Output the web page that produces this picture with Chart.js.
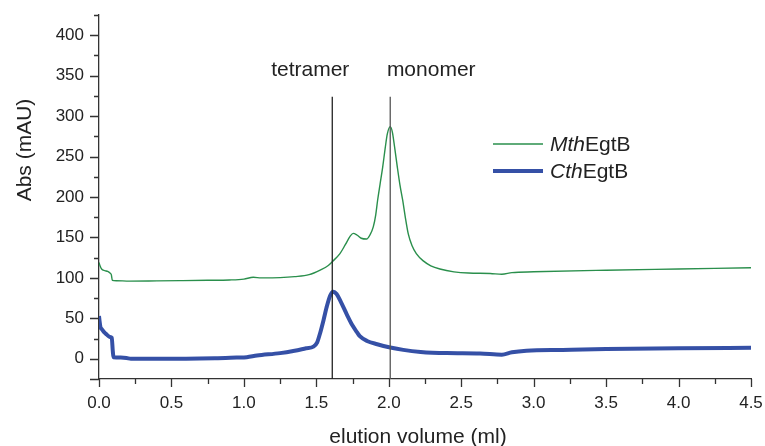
<!DOCTYPE html>
<html>
<head>
<meta charset="utf-8">
<script src="https://cdn.jsdelivr.net/npm/chart.js@4.4.1/dist/chart.umd.min.js"></script>
<style>
  html, body { margin: 0; padding: 0; background: #fff; }
  #wrap { width: 765px; height: 446px; }
</style>
</head>
<body>
<div id="wrap"><canvas id="grafico" width="765" height="446"></canvas></div>
<script>
const mthX = [0, 0.007, 0.018, 0.04, 0.06, 0.076, 0.085, 0.092, 0.12, 0.21, 0.4, 0.56, 0.75, 0.9, 1.0, 1.065, 1.12, 1.25, 1.35, 1.45, 1.53, 1.58, 1.61, 1.663, 1.70, 1.735, 1.755, 1.78, 1.81, 1.847, 1.87, 1.893, 1.91, 1.923, 1.94, 1.958, 1.975, 1.99, 2.01, 2.025, 2.04, 2.059, 2.077, 2.096, 2.115, 2.135, 2.16, 2.19, 2.238, 2.29, 2.353, 2.45, 2.55, 2.7, 2.78, 2.85, 3.0, 3.5, 4.0, 4.5];
const mthY = [119, 115, 111, 109, 108, 106, 104, 97, 96.5, 96, 96.3, 96.6, 97, 97.4, 98.5, 100.7, 100, 100.3, 101.5, 104, 110, 115, 120, 130, 141, 152, 155, 153, 149, 148, 153, 163, 178, 196, 216, 237, 260, 278, 287, 280, 262, 237, 215, 196, 174, 154, 140, 130, 121, 115, 111, 107.5, 106, 105.5, 104.5, 106.5, 107.5, 109.5, 111, 112.5];

const cthX = [0, 0.005, 0.01, 0.018, 0.035, 0.053, 0.075, 0.088, 0.095, 0.1, 0.15, 0.19, 0.22, 0.4, 0.6, 0.8, 0.95, 1.02, 1.09, 1.25, 1.35, 1.43, 1.48, 1.505, 1.525, 1.55, 1.57, 1.595, 1.617, 1.64, 1.67, 1.71, 1.75, 1.78, 1.80, 1.85, 1.92, 2.01, 2.1, 2.22, 2.4, 2.63, 2.78, 2.85, 2.95, 3.2, 3.5, 4.0, 4.5];
const cthY = [53, 45, 39, 37, 33, 30, 27, 26, 10, 2, 1.5, 1, 0, 0, 0, 0.5, 1.5, 2, 4, 7, 10, 13, 15, 20, 31, 48, 63, 78, 83, 80, 70, 55, 41, 33, 28, 22, 18, 14, 11, 8.5, 7, 6.5, 5, 8, 10, 11, 12, 13, 13.5];

const marcas = ['tetramer', 'monomer'];
const marcaX = [1.61, 2.01];
const marcaTope = 324;

const xTicks = [0, 0.5, 1, 1.5, 2, 2.5, 3, 3.5, 4, 4.5];
const yTicks = [0, 50, 100, 150, 200, 250, 300, 350, 400];

const verde = '#2a8f4c';
const azul = '#3550a6';
const fuente = '"Liberation Sans", Arial, sans-serif';

const puntos = (xs, ys) => xs.map((x, i) => ({ x: x, y: ys[i] }));

// ticks menores/mayores y textos
const extras = {
  id: 'extras',
  afterDraw(chart) {
    const ctx = chart.ctx;
    const sx = chart.scales.x, sy = chart.scales.y;
    const area = chart.chartArea;
    ctx.save();
    ctx.strokeStyle = '#333';
    ctx.lineWidth = 1.3;
    ctx.beginPath();
    for (let v = 0; v <= 4.5001; v += 0.25) {
      const px = Math.round(sx.getPixelForValue(v)) + 0.5;
      const mayor = xTicks.some(t => Math.abs(t - v) < 1e-6);
      ctx.moveTo(px, area.bottom);
      ctx.lineTo(px, area.bottom + (mayor ? 8 : 5));
    }
    for (let v = -25; v <= 425; v += 25) {
      const py = Math.round(sy.getPixelForValue(v)) + 0.5;
      const mayor = yTicks.includes(v) || v === -25;
      ctx.moveTo(area.left, py);
      ctx.lineTo(area.left - (mayor ? 9 : 5), py);
    }
    ctx.stroke();

    ctx.fillStyle = '#222';
    ctx.font = '21px ' + fuente;
    ctx.textAlign = 'center';
    ctx.textBaseline = 'alphabetic';
    ctx.fillText('elution volume (ml)', (area.left + area.right) / 2 - 7, 443);
    ctx.save();
    ctx.translate(31, 150);
    ctx.rotate(-Math.PI / 2);
    ctx.fillText('Abs (mAU)', 0, 0);
    ctx.restore();

    // etiquetas de las lineas verticales
    const desplaz = [-22, 41];
    marcas.forEach((m, i) => {
      ctx.fillText(m, sx.getPixelForValue(marcaX[i]) + desplaz[i], 76);
    });

    // leyenda
    const filas = [
      { it: 'Mth', resto: 'EgtB', color: verde, ancho: 1.4, y: 144 },
      { it: 'Cth', resto: 'EgtB', color: azul, ancho: 4, y: 171 }
    ];
    ctx.textAlign = 'left';
    filas.forEach(f => {
      ctx.strokeStyle = f.color;
      ctx.lineWidth = f.ancho;
      ctx.beginPath();
      ctx.moveTo(493, f.y);
      ctx.lineTo(543, f.y);
      ctx.stroke();
      ctx.fillStyle = '#222';
      ctx.font = 'italic 21px ' + fuente;
      ctx.fillText(f.it, 550, f.y + 7);
      const w = ctx.measureText(f.it).width;
      ctx.font = '21px ' + fuente;
      ctx.fillText(f.resto, 550 + w, f.y + 7);
    });
    ctx.restore();
  }
};

const lineasMarca = marcaX.map((x, i) => ({
  label: marcas[i],
  data: [{ x: x, y: -25 }, { x: x, y: marcaTope }],
  borderColor: i === 0 ? '#222' : '#555',
  borderWidth: 1.3,
  pointRadius: 0,
  tension: 0
}));

new Chart(document.getElementById('grafico'), {
  type: 'line',
  data: {
    datasets: [
      ...lineasMarca,
      {
        label: 'MthEgtB',
        data: puntos(mthX, mthY),
        borderColor: verde,
        borderWidth: 1.4,
        pointRadius: 0,
        cubicInterpolationMode: 'monotone'
      },
      {
        label: 'CthEgtB',
        data: puntos(cthX, cthY),
        borderColor: azul,
        borderWidth: 4,
        pointRadius: 0,
        cubicInterpolationMode: 'monotone'
      }
    ]
  },
  options: {
    responsive: false,
    animation: false,
    devicePixelRatio: 1,
    layout: { padding: { top: 15, right: 14, left: 0, bottom: 0 } },
    plugins: { legend: { display: false }, tooltip: { enabled: false } },
    scales: {
      x: {
        type: 'linear',
        min: 0,
        max: 4.5,
        afterFit: s => { s.height = 67; s.paddingLeft = 0; s.paddingRight = 0; },
        grid: { display: false },
        border: { color: '#333', width: 1.3 },
        ticks: {
          stepSize: 0.25,
          autoSkip: false,
          maxRotation: 0,
          padding: 6,
          color: '#222',
          font: { family: fuente, size: 17 },
          callback: v => xTicks.some(t => Math.abs(t - v) < 1e-6) ? v.toFixed(1) : ''
        }
      },
      y: {
        min: -25,
        max: 425,
        afterFit: s => { s.width = 99; s.paddingTop = 0; s.paddingBottom = 0; },
        grid: { display: false },
        border: { color: '#333', width: 1.3 },
        ticks: {
          stepSize: 25,
          autoSkip: false,
          padding: 7,
          color: '#222',
          font: { family: fuente, size: 17 },
          callback: v => yTicks.includes(v) ? String(v) : ''
        }
      }
    }
  },
  plugins: [extras]
});
</script>
</body>
</html>
